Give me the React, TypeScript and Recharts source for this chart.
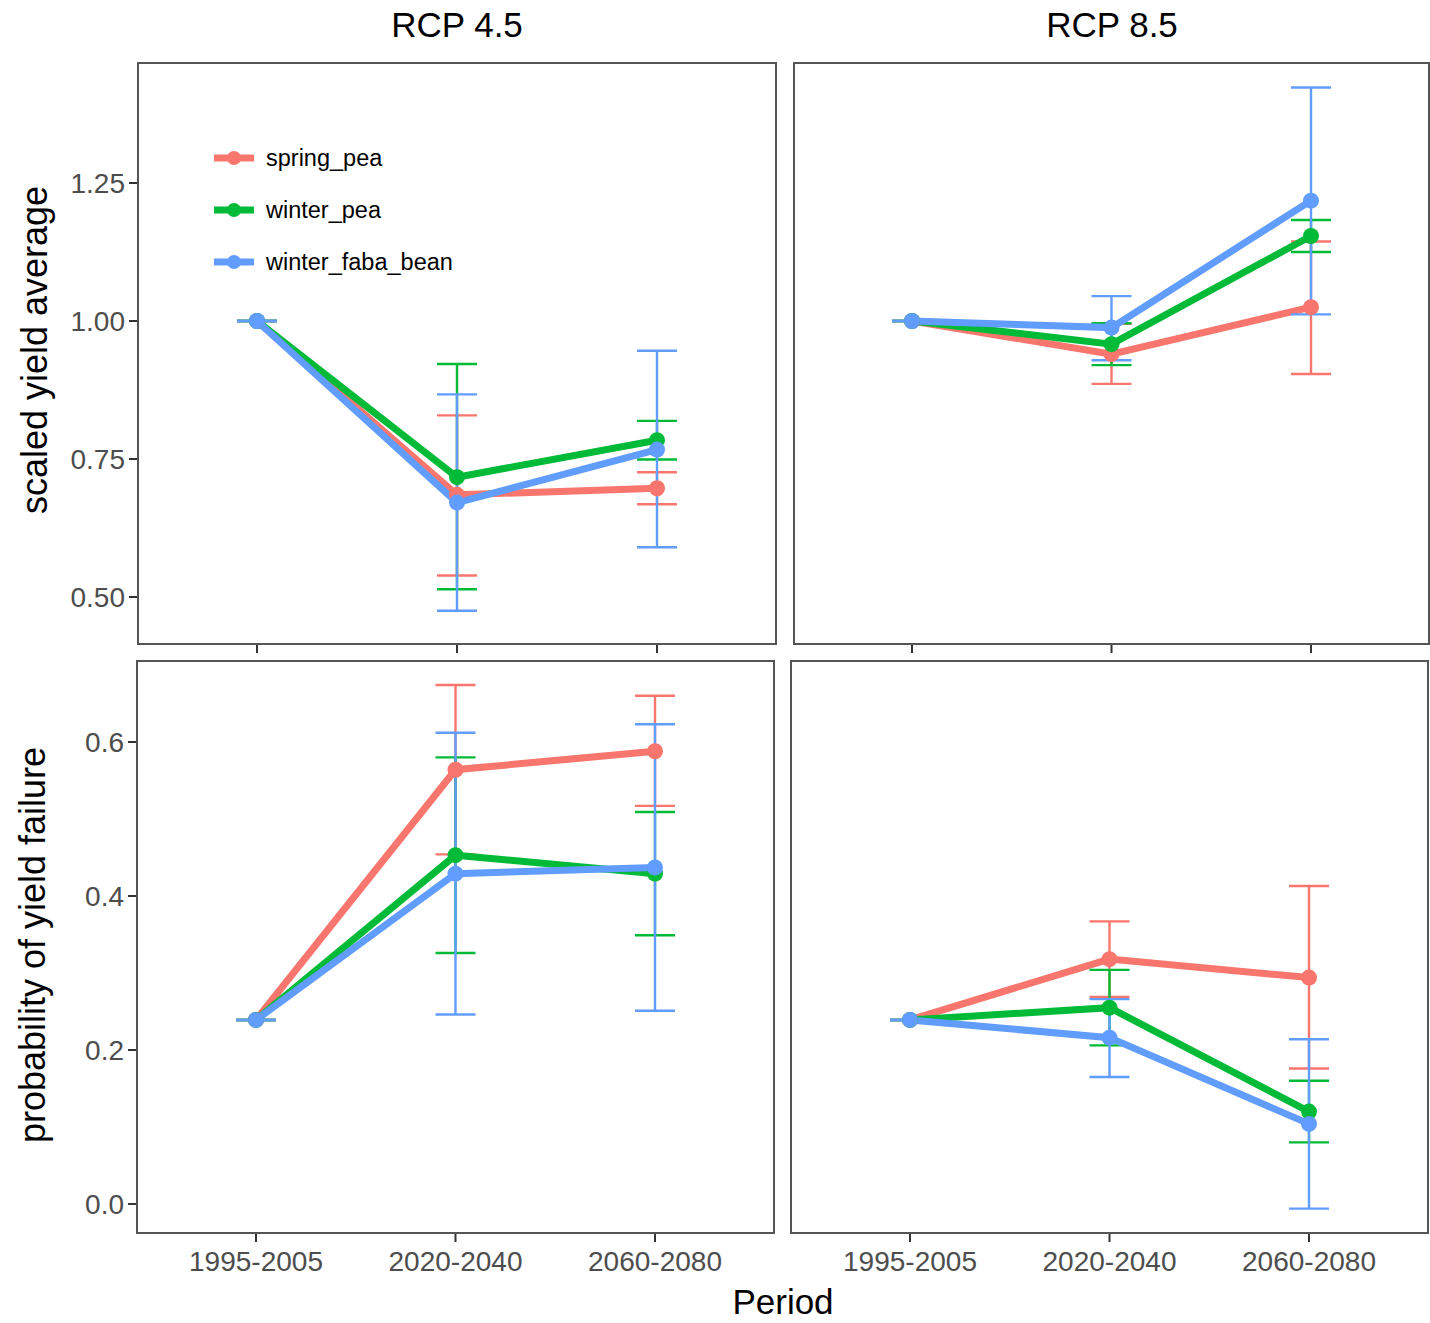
import { LineChart, Line, XAxis, YAxis, ErrorBar } from "recharts";

const periods = ["1995-2005", "2020-2040", "2060-2080"];
const crops = ["spring_pea", "winter_pea", "winter_faba_bean"];
const cropColors = ["#F8766D", "#00BA38", "#619CFF"];

// scaled yield average, RCP 4.5
const ya45SpringMean = [1.0, 0.685, 0.697];
const ya45SpringLow = [1.0, 0.539, 0.668];
const ya45SpringHigh = [1.0, 0.829, 0.726];
const ya45WinterMean = [1.0, 0.717, 0.784];
const ya45WinterLow = [1.0, 0.514, 0.749];
const ya45WinterHigh = [1.0, 0.922, 0.819];
const ya45FabaMean = [1.0, 0.671, 0.767];
const ya45FabaLow = [1.0, 0.475, 0.59];
const ya45FabaHigh = [1.0, 0.867, 0.946];

// scaled yield average, RCP 8.5
const ya85SpringMean = [1.0, 0.94, 1.025];
const ya85SpringLow = [1.0, 0.886, 0.904];
const ya85SpringHigh = [1.0, 0.995, 1.144];
const ya85WinterMean = [1.0, 0.958, 1.154];
const ya85WinterLow = [1.0, 0.92, 1.125];
const ya85WinterHigh = [1.0, 0.996, 1.183];
const ya85FabaMean = [1.0, 0.988, 1.218];
const ya85FabaLow = [1.0, 0.929, 1.012];
const ya85FabaHigh = [1.0, 1.045, 1.423];

// probability of yield failure, RCP 4.5
const pf45SpringMean = [0.239, 0.564, 0.588];
const pf45SpringLow = [0.239, 0.454, 0.517];
const pf45SpringHigh = [0.239, 0.674, 0.66];
const pf45WinterMean = [0.239, 0.453, 0.429];
const pf45WinterLow = [0.239, 0.326, 0.349];
const pf45WinterHigh = [0.239, 0.58, 0.509];
const pf45FabaMean = [0.239, 0.429, 0.437];
const pf45FabaLow = [0.239, 0.246, 0.251];
const pf45FabaHigh = [0.239, 0.612, 0.623];

// probability of yield failure, RCP 8.5
const pf85SpringMean = [0.239, 0.318, 0.294];
const pf85SpringLow = [0.239, 0.269, 0.176];
const pf85SpringHigh = [0.239, 0.367, 0.413];
const pf85WinterMean = [0.239, 0.255, 0.12];
const pf85WinterLow = [0.239, 0.206, 0.08];
const pf85WinterHigh = [0.239, 0.304, 0.16];
const pf85FabaMean = [0.239, 0.216, 0.104];
const pf85FabaLow = [0.239, 0.165, -0.006];
const pf85FabaHigh = [0.239, 0.266, 0.214];

const yieldTicks = [0.5, 0.75, 1.0, 1.25];
const failureTicks = [0, 0.2, 0.4, 0.6];

const FONT = "'Liberation Sans', Arial, sans-serif";

function buildRows(means: number[][], lows: number[][], highs: number[][]) {
  return periods.map((period, i) => {
    const row: any = { period };
    crops.forEach((c, k) => {
      const m = means[k][i];
      row[c] = m;
      row[c + "_err"] = [m - lows[k][i], highs[k][i] - m];
    });
    return row;
  });
}

const ya45Rows = buildRows(
  [ya45SpringMean, ya45WinterMean, ya45FabaMean],
  [ya45SpringLow, ya45WinterLow, ya45FabaLow],
  [ya45SpringHigh, ya45WinterHigh, ya45FabaHigh]
);
const ya85Rows = buildRows(
  [ya85SpringMean, ya85WinterMean, ya85FabaMean],
  [ya85SpringLow, ya85WinterLow, ya85FabaLow],
  [ya85SpringHigh, ya85WinterHigh, ya85FabaHigh]
);
const pf45Rows = buildRows(
  [pf45SpringMean, pf45WinterMean, pf45FabaMean],
  [pf45SpringLow, pf45WinterLow, pf45FabaLow],
  [pf45SpringHigh, pf45WinterHigh, pf45FabaHigh]
);
const pf85Rows = buildRows(
  [pf85SpringMean, pf85WinterMean, pf85FabaMean],
  [pf85SpringLow, pf85WinterLow, pf85FabaLow],
  [pf85SpringHigh, pf85WinterHigh, pf85FabaHigh]
);

interface PanelProps {
  rows: any[];
  plotLeft: number;
  plotTop: number;
  plotWidth: number;
  plotHeight: number;
  pad: number;
  domain: [number, number];
  ticks: number[];
  decimals: number;
  showY: boolean;
  showXLabels: boolean;
}

const emptyTick = () => <g />;

function Panel(p: PanelProps) {
  const yw = p.showY ? p.plotLeft : 0;
  const xh = p.showXLabels ? 60 : 12;
  const left = p.showY ? 0 : p.plotLeft;
  return (
    <>
      <div style={{ position: "absolute", left, top: p.plotTop }}>
        <LineChart
          width={yw + p.plotWidth}
          height={p.plotHeight + xh}
          data={p.rows}
          margin={{ top: 0, right: 0, bottom: 0, left: 0 }}
        >
          <XAxis
            dataKey="period"
            scale="point"
            padding={{ left: p.pad, right: p.pad }}
            interval={0}
            axisLine={false}
            tickLine={{ stroke: "#333", strokeWidth: 2 }}
            tickSize={8}
            tickMargin={9}
            height={xh}
            tick={
              p.showXLabels
                ? { fill: "#4d4d4d", fontSize: 28, fontFamily: FONT }
                : emptyTick
            }
          />
          <YAxis
            type="number"
            domain={p.domain}
            ticks={p.ticks}
            allowDataOverflow
            hide={!p.showY}
            width={yw}
            axisLine={false}
            tickLine={{ stroke: "#333", strokeWidth: 2 }}
            tickSize={8}
            tickMargin={4}
            tick={{ fill: "#4d4d4d", fontSize: 28, fontFamily: FONT }}
            tickFormatter={(v: number) => v.toFixed(p.decimals)}
          />
          {crops.map((c, k) => (
            <Line
              key={c}
              dataKey={c}
              stroke={cropColors[k]}
              strokeWidth={7}
              dot={{ r: 8, fill: cropColors[k], stroke: "none" }}
              activeDot={false}
              isAnimationActive={false}
            >
              <ErrorBar
                dataKey={c + "_err"}
                width={20}
                strokeWidth={2.4}
                stroke={cropColors[k]}
                direction="y"
                isAnimationActive={false}
              />
            </Line>
          ))}
        </LineChart>
      </div>
      <div
        style={{
          position: "absolute",
          left: p.plotLeft,
          top: p.plotTop,
          width: p.plotWidth,
          height: p.plotHeight,
          border: "2px solid #555",
          boxSizing: "border-box",
          pointerEvents: "none",
        }}
      />
    </>
  );
}

function CropLegend() {
  return (
    <div style={{ position: "absolute", left: 212, top: 132 }}>
      {crops.map((c, k) => (
        <div key={c} style={{ display: "flex", alignItems: "center", height: 52 }}>
          <svg width={46} height={20}>
            <line x1={2} y1={10} x2={42} y2={10} stroke={cropColors[k]} strokeWidth={7} />
            <circle cx={22} cy={10} r={7} fill={cropColors[k]} />
          </svg>
          <span style={{ fontFamily: FONT, fontSize: 23.5, color: "#000", marginLeft: 8 }}>{c}</span>
        </div>
      ))}
    </div>
  );
}

const textBase: any = { position: "absolute", fontFamily: FONT, color: "#000", whiteSpace: "nowrap" };

export default function App() {
  return (
    <div
      style={{
        position: "absolute",
        left: 0,
        top: 0,
        width: 1430,
        height: 1323,
        background: "#fff",
        overflow: "hidden",
      }}
    >
      <div style={{ ...textBase, left: 457, top: 25, fontSize: 35, transform: "translate(-50%, -50%)" }}>
        RCP 4.5
      </div>
      <div style={{ ...textBase, left: 1112, top: 25, fontSize: 35, transform: "translate(-50%, -50%)" }}>
        RCP 8.5
      </div>
      <div
        style={{
          ...textBase,
          left: 35,
          top: 350,
          fontSize: 36,
          transform: "translate(-50%, -50%) rotate(-90deg)",
        }}
      >
        scaled yield average
      </div>
      <div
        style={{
          ...textBase,
          left: 33,
          top: 945,
          fontSize: 36,
          transform: "translate(-50%, -50%) rotate(-90deg)",
        }}
      >
        probability of yield failure
      </div>
      <div style={{ ...textBase, left: 783, top: 1302, fontSize: 35, transform: "translate(-50%, -50%)" }}>
        Period
      </div>

      <Panel
        rows={ya45Rows}
        plotLeft={137}
        plotTop={62}
        plotWidth={640}
        plotHeight={583}
        pad={120}
        domain={[0.413, 1.4692]}
        ticks={yieldTicks}
        decimals={2}
        showY
        showXLabels={false}
      />
      <Panel
        rows={ya85Rows}
        plotLeft={793}
        plotTop={62}
        plotWidth={637}
        plotHeight={583}
        pad={119}
        domain={[0.413, 1.4692]}
        ticks={yieldTicks}
        decimals={2}
        showY={false}
        showXLabels={false}
      />
      <Panel
        rows={pf45Rows}
        plotLeft={136}
        plotTop={660}
        plotWidth={639}
        plotHeight={574}
        pad={120}
        domain={[-0.039, 0.7065]}
        ticks={failureTicks}
        decimals={1}
        showY
        showXLabels
      />
      <Panel
        rows={pf85Rows}
        plotLeft={790}
        plotTop={660}
        plotWidth={639}
        plotHeight={574}
        pad={120}
        domain={[-0.039, 0.7065]}
        ticks={failureTicks}
        decimals={1}
        showY={false}
        showXLabels
      />
      <CropLegend />
    </div>
  );
}
